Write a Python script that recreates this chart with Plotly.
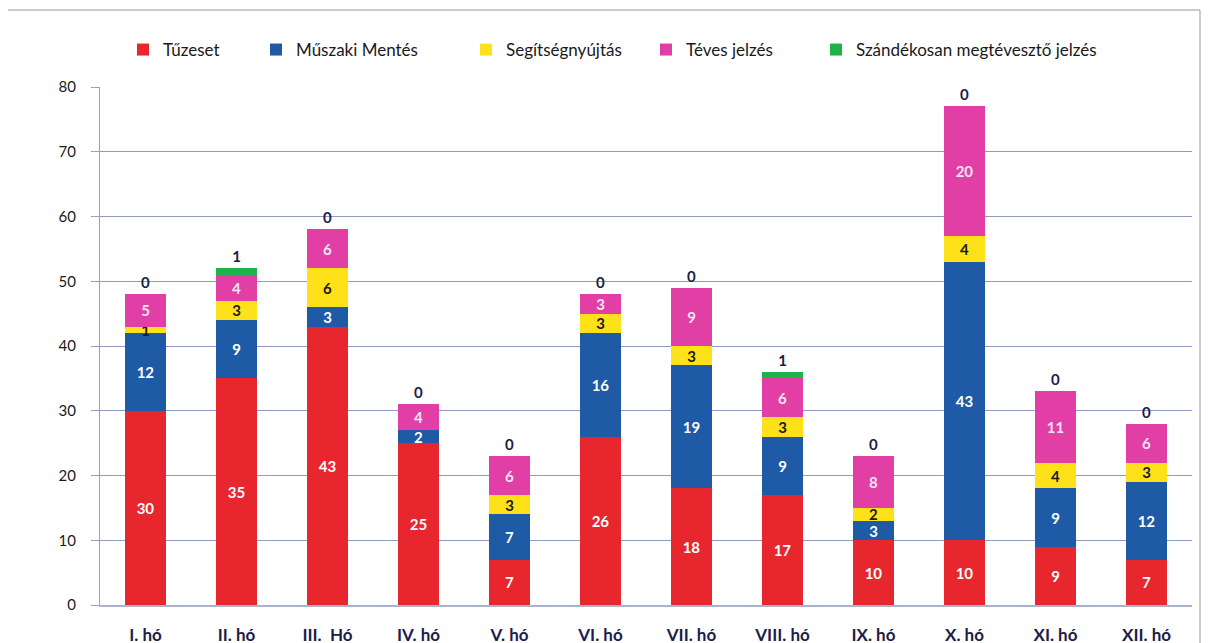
import plotly.graph_objects as go

months = ["I. hó", "II. hó", "III.  Hó", "IV. hó", "V. hó", "VI. hó",
          "VII. hó", "VIII. hó", "IX. hó", "X. hó", "XI. hó", "XII. hó"]
tuzeset = [30, 35, 43, 25, 7, 26, 18, 17, 10, 10, 9, 7]
muszaki = [12, 9, 3, 2, 7, 16, 19, 9, 3, 43, 9, 12]
segitseg = [1, 3, 6, 0, 3, 3, 3, 3, 2, 4, 4, 3]
teves = [5, 4, 6, 4, 6, 3, 9, 6, 8, 20, 11, 6]
szandekos = [0, 1, 0, 0, 0, 0, 0, 1, 0, 0, 0, 0]

series = [
    ("Tűzeset", tuzeset, "#e8262d", "white"),
    ("Műszaki Mentés", muszaki, "#1f5aa6", "white"),
    ("Segítségnyújtás", segitseg, "#ffe11a", "#1a1a1a"),
    ("Téves jelzés", teves, "#e13fa6", "#f4e6f4"),
]
legend_x = [115, 248, 458, 638, 808]  # left edge in px of each legend item

fig = go.Figure()
for i, (name, vals, color, tcolor) in enumerate(series):
    fig.add_trace(go.Bar(
        name=name, x=months, y=vals,
        marker=dict(color=color, line=dict(width=0)),
        text=[str(v) if v else "" for v in vals],
        textposition="inside", insidetextanchor="middle", textangle=0,
        textfont=dict(color=tcolor, size=15, family="Lato", weight="bold"),
        hoverinfo="skip",
        legend="legend" if i == 0 else f"legend{i+1}",
    ))
fig.add_trace(go.Bar(
    name="Szándékosan megtévesztő jelzés", x=months, y=szandekos,
    marker=dict(color="#1db34b", line=dict(width=0)),
    text=[str(v) for v in szandekos],
    textposition="outside", textangle=0,
    textfont=dict(color="#1b1d4a", size=15, family="Lato", weight="bold"),
    cliponaxis=False, hoverinfo="skip",
    legend="legend5",
))

W, H = 1209, 643
leg_common = dict(orientation="h", xref="container", yref="container",
                  y=1 - 42 / H, xanchor="left", yanchor="middle",
                  font=dict(size=17, family="Lato", color="#1a1a1a"),
                  bgcolor="rgba(0,0,0,0)")
legends = {}
for i, lx in enumerate(legend_x):
    key = "legend" if i == 0 else f"legend{i+1}"
    legends[key] = dict(leg_common, x=lx / W)

L, R, T, B = 92, 25, 79, 46
pw, ph = W - L - R, H - T - B
fig.update_layout(
    barmode="stack",
    bargap=0.56,
    width=W, height=H,
    margin=dict(l=L, r=R, t=T, b=B, autoexpand=False),
    plot_bgcolor="white", paper_bgcolor="white",
    font=dict(family="Lato", size=14, color="#1a1a1a"),
    uniformtext=dict(minsize=13, mode="show"),
    showlegend=True,
    shapes=[dict(type="rect", xref="paper", yref="paper",
                 x0=(-3 - L) / pw, x1=(1192 - L) / pw, y0=-0.3, y1=(H - B - 2) / ph,
                 line=dict(color="#9a9a9a", width=1), layer="below")],
    **legends,
)
fig.update_xaxes(
    showline=True, linecolor="#a9b3c9", linewidth=1.5,
    ticks="", ticklabelstandoff=14,
    tickfont=dict(size=17, family="Lato", color="#1b1d4a", weight="bold"),
    showgrid=False,
)
fig.update_yaxes(
    range=[0, 80], dtick=10,
    showgrid=True, gridcolor="#8e9cc2", gridwidth=1,
    showline=True, linecolor="#a0a0a0", linewidth=1,
    ticks="outside", ticklen=8, tickcolor="#a0a0a0", ticklabelstandoff=12,
    tickfont=dict(size=15, family="Lato", color="#1a1a1a"),
    zeroline=False,
)

fig.write_html("out.html")
